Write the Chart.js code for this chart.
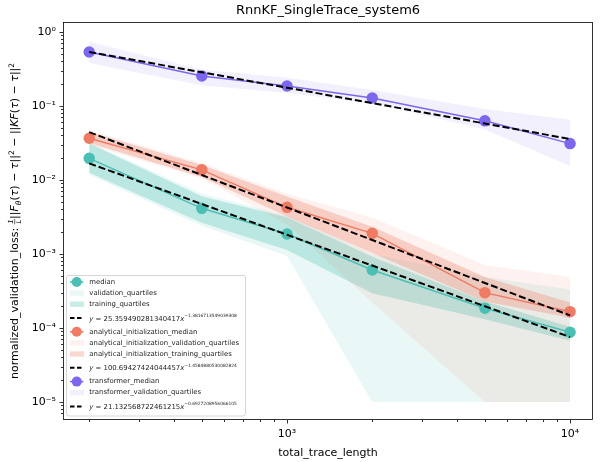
<!DOCTYPE html>
<html>
<head>
<meta charset="utf-8">
<script src="https://cdn.jsdelivr.net/npm/chart.js@4.4.1/dist/chart.umd.min.js"></script>
<style>
  html, body { margin: 0; padding: 0; background: #fff; }
  #wrap { width: 603px; height: 462px; }
</style>
</head>
<body>
<div id="wrap"><canvas id="lossChart"></canvas></div>
<script>
// values
const traceLengths = [200, 500, 1000, 2000, 5000, 10000];

const median = [0.0196, 0.00414, 0.00186, 0.000608, 0.000185, 0.0000875];
const valQ1 = [0.0118, 0.0024, 0.00094, 0.00001, 0.00001, 0.00001];
const valQ3 = [0.032, 0.0065, 0.0033, 0.0010, 0.00049, 0.00033];
const trainQ1 = [0.0125, 0.00265, 0.00113, 0.000295, 0.000131, 0.000067];
const trainQ3 = [0.031, 0.0060, 0.00313, 0.00092, 0.000227, 0.000104];
const fitMedian = [0.016785, 0.004733, 0.001816, 0.000697, 0.0001965, 0.0000754];

const anaMedian = [0.0366, 0.0137, 0.00427, 0.0019, 0.0003, 0.000166];
const anaValQ1 = [0.030, 0.0105, 0.0025, 0.00022, 0.00001, 0.00001];
const anaValQ3 = [0.047, 0.017, 0.0065, 0.0031, 0.00071, 0.00049];
const anaTrainQ1 = [0.0316, 0.011, 0.0032, 0.00103, 0.000227, 0.000137];
const anaTrainQ3 = [0.045, 0.0159, 0.006, 0.00234, 0.00049, 0.00022];
const fitAna = [0.04436, 0.011657, 0.004241, 0.0015436, 0.0004056, 0.0001476];

const tfMedian = [0.537, 0.254, 0.186, 0.128, 0.063, 0.031];
const tfValQ1 = [0.38, 0.19, 0.15, 0.11, 0.048, 0.0155];
const tfValQ3 = [0.74, 0.31, 0.24, 0.165, 0.091, 0.065];
const fitTf = [0.5383, 0.2853, 0.1766, 0.1093, 0.0579, 0.0358];

const fitCoefs = ['25.359490281340417', '100.69427424044457', '21.132568722461215'];
const fitExps = ['−1.3816713549039308', '−1.4584880530082824', '−0.6927208956066105'];

const chartTitle = 'RnnKF_SingleTrace_system6';
const xTitle = 'total_trace_length';

const TEAL = [75, 191, 180];
const SALMON = [239, 123, 100];
const PURPLE = [123, 104, 238];
const rgba = (c, a) => `rgba(${c[0]},${c[1]},${c[2]},${a})`;

const FONT = '"DejaVu Sans", sans-serif';

function pts(ys) {
    return traceLengths.map((x, i) => ({ x: x, y: ys[i] }));
}

function band(upper, lower, color, alpha, order) {
    return [
        { data: pts(upper), fill: '+1', backgroundColor: rgba(color, alpha), borderColor: rgba(color, 0),
          borderWidth: 1, pointRadius: 0, order: order },
        { data: pts(lower), fill: false, borderColor: rgba(color, 0), borderWidth: 1, pointRadius: 0, order: order }
    ];
}

function medianLine(ys, color, order) {
    return { data: pts(ys), borderColor: rgba(color, 1), backgroundColor: rgba(color, 1),
             pointBackgroundColor: rgba(color, 1), pointBorderColor: rgba(color, 1),
             pointRadius: 5, borderWidth: 1.5, fill: false, order: order };
}

function fitLine(ys, order) {
    return { data: pts(ys), borderColor: '#000', borderDash: [7, 3], borderWidth: 2,
             pointRadius: 0, fill: false, order: order };
}

const datasets = [
    medianLine(median, TEAL, 6),
    fitLine(fitMedian, 5),
    medianLine(anaMedian, SALMON, 4),
    fitLine(fitAna, 3),
    medianLine(tfMedian, PURPLE, 2),
    fitLine(fitTf, 1),
    ...band(valQ3, valQ1, TEAL, 0.12, 11),
    ...band(trainQ3, trainQ1, TEAL, 0.3, 10),
    ...band(anaValQ3, anaValQ1, SALMON, 0.1, 9),
    ...band(anaTrainQ3, anaTrainQ1, SALMON, 0.3, 8),
    ...band(tfValQ3, tfValQ1, PURPLE, 0.1, 7)
];

const legendItems = [
    { kind: 'marker', color: TEAL, label: 'median' },
    { kind: 'patch', color: TEAL, alpha: 0.12, label: 'validation_quartiles' },
    { kind: 'patch', color: TEAL, alpha: 0.3, label: 'training_quartiles' },
    { kind: 'fit', fit: 0 },
    { kind: 'marker', color: SALMON, label: 'analytical_initialization_median' },
    { kind: 'patch', color: SALMON, alpha: 0.1, label: 'analytical_initialization_validation_quartiles' },
    { kind: 'patch', color: SALMON, alpha: 0.3, label: 'analytical_initialization_training_quartiles' },
    { kind: 'fit', fit: 1 },
    { kind: 'marker', color: PURPLE, label: 'transformer_median' },
    { kind: 'patch', color: PURPLE, alpha: 0.1, label: 'transformer_validation_quartiles' },
    { kind: 'fit', fit: 2 }
];

const SUP = { '0': '⁰', '1': '¹', '2': '²', '3': '³', '4': '⁴', '5': '⁵', '6': '⁶', '-': '⁻' };
function powLabel(v) {
    const e = Math.log10(v);
    if (Math.abs(e - Math.round(e)) > 1e-9) return '';
    return '10' + String(Math.round(e)).split('').map(c => SUP[c]).join('');
}

function isWholeTick(v) {
    const s = v / Math.pow(10, Math.floor(Math.log10(v) + 1e-9));
    return Math.abs(s - Math.round(s)) < 1e-6;
}

// draws a row of text pieces with their own fonts and offsets
function drawRich(ctx, parts, x, y, align) {
    let total = 0;
    parts.forEach(p => {
        ctx.font = p.f;
        p.w = p.frac ? Math.max(ctx.measureText(p.frac[0]).width, ctx.measureText(p.frac[1]).width) + 1 : ctx.measureText(p.t).width;
        total += p.w;
    });
    let cx = align === 'center' ? x - total / 2 : x;
    ctx.textAlign = 'left';
    ctx.textBaseline = 'alphabetic';
    parts.forEach(p => {
        ctx.font = p.f;
        if (p.frac) {
            ctx.textAlign = 'center';
            ctx.fillText(p.frac[0], cx + p.w / 2, y - 5);
            ctx.fillText(p.frac[1], cx + p.w / 2, y + 3);
            ctx.fillRect(cx, y - 3.5, p.w, 0.6);
            ctx.textAlign = 'left';
        } else {
            ctx.fillText(p.t, cx, y + (p.dy || 0));
        }
        cx += p.w;
    });
}

const decor = {
    id: 'decor',
    afterDraw(chart) {
        const ctx = chart.ctx;
        const area = chart.chartArea;
        ctx.save();

        // ticks (major longer than minor)
        ctx.strokeStyle = '#000';
        ctx.lineWidth = 0.8;
        const xs = chart.scales.x, ys = chart.scales.y;
        xs.ticks.forEach(t => {
            if (!isWholeTick(t.value)) return;
            const px = Math.round(xs.getPixelForValue(t.value)) + 0.5;
            if (px < area.left || px > area.right) return;
            const len = powLabel(t.value) ? 3.5 : 2;
            ctx.beginPath();
            ctx.moveTo(px, area.bottom);
            ctx.lineTo(px, area.bottom + len);
            ctx.stroke();
        });
        ys.ticks.forEach(t => {
            if (!isWholeTick(t.value)) return;
            const py = Math.round(ys.getPixelForValue(t.value)) + 0.5;
            if (py < area.top || py > area.bottom) return;
            const len = powLabel(t.value) ? 3.5 : 2;
            ctx.beginPath();
            ctx.moveTo(area.left, py);
            ctx.lineTo(area.left - len, py);
            ctx.stroke();
        });

        // frame
        ctx.strokeRect(area.left + 0.5, area.top + 0.5, area.right - area.left - 1, area.bottom - area.top - 1);

        // titles
        ctx.fillStyle = '#000';
        ctx.font = '13px ' + FONT;
        ctx.textAlign = 'center';
        ctx.textBaseline = 'middle';
        ctx.fillText(chartTitle, (area.left + area.right) / 2, 11);
        ctx.font = '11px ' + FONT;
        ctx.fillText(xTitle, (area.left + area.right) / 2, 453);

        const base = '11px ' + FONT, ital = 'italic 11px ' + FONT;
        const sup = '7.5px ' + FONT, supItal = 'italic 7.5px ' + FONT;
        const yParts = [
            { t: 'normalized_validation_loss: ', f: base },
            { frac: ['1', 'L'], f: 'italic 7px ' + FONT },
            { t: '||', f: base }, { t: 'F', f: ital }, { t: 'θ', f: supItal, dy: 2.5 },
            { t: '(', f: base }, { t: 'τ', f: ital }, { t: ') − ', f: base }, { t: 'τ', f: ital },
            { t: '||', f: base }, { t: '2', f: sup, dy: -4.5 },
            { t: ' − ||', f: base }, { t: 'KF', f: ital }, { t: '(', f: base }, { t: 'τ', f: ital },
            { t: ') − ', f: base }, { t: 'τ', f: ital }, { t: '||', f: base }, { t: '2', f: sup, dy: -4.5 }
        ];
        ctx.save();
        ctx.translate(18, (area.top + area.bottom) / 2);
        ctx.rotate(-Math.PI / 2);
        drawRich(ctx, yParts, 0, 0, 'center');
        ctx.restore();

        // legend
        const bx = 66.5, by = 275.5, bw = 179, bh = 140.5;
        ctx.fillStyle = 'rgba(255,255,255,0.8)';
        ctx.strokeStyle = '#d6d6d6';
        ctx.lineWidth = 1;
        ctx.beginPath();
        ctx.roundRect(bx, by, bw, bh, 2.5);
        ctx.fill();
        ctx.stroke();

        let rowY = by + 6.5;
        legendItems.forEach((it, i) => {
            if (i > 0) {
                const prev = legendItems[i - 1];
                rowY += (it.kind === 'fit' || prev.kind === 'fit') ? 13.8 : 11.1;
            }
            const hx = 70, hw = 13.5;
            if (it.kind === 'marker') {
                ctx.strokeStyle = rgba(it.color, 1);
                ctx.fillStyle = rgba(it.color, 1);
                ctx.lineWidth = 1.5;
                ctx.setLineDash([]);
                ctx.beginPath();
                ctx.moveTo(hx, rowY);
                ctx.lineTo(hx + hw, rowY);
                ctx.stroke();
                ctx.beginPath();
                ctx.arc(hx + hw / 2, rowY, 5, 0, Math.PI * 2);
                ctx.fill();
            } else if (it.kind === 'patch') {
                ctx.fillStyle = rgba(it.color, it.alpha);
                ctx.fillRect(hx, rowY - 2.7, hw + 0.5, 5.4);
            } else {
                ctx.strokeStyle = '#000';
                ctx.lineWidth = 2;
                ctx.setLineDash([4.5, 2.5]);
                ctx.beginPath();
                ctx.moveTo(hx, rowY);
                ctx.lineTo(hx + hw, rowY);
                ctx.stroke();
                ctx.setLineDash([]);
            }
            ctx.fillStyle = '#222';
            if (it.kind === 'fit') {
                const f = '6.9px ' + FONT, fi = 'italic 6.9px ' + FONT;
                drawRich(ctx, [
                    { t: 'y', f: fi }, { t: ' = ' + fitCoefs[it.fit], f: f }, { t: 'x', f: fi },
                    { t: fitExps[it.fit], f: '4.4px ' + FONT, dy: -3.7 }
                ], 89.3, rowY + 2.5, 'left');
            } else {
                ctx.font = '6.9px ' + FONT;
                ctx.textAlign = 'left';
                ctx.textBaseline = 'middle';
                ctx.fillText(it.label, 89.3, rowY);
            }
        });

        ctx.restore();
    }
};

new Chart(document.getElementById('lossChart'), {
    type: 'line',
    data: { datasets: datasets },
    options: {
        responsive: true,
        maintainAspectRatio: false,
        animation: false,
        layout: { padding: { top: 22, right: 10, left: 0, bottom: 0 } },
        elements: { line: { tension: 0 } },
        plugins: {
            legend: { display: false },
            tooltip: { enabled: false },
            filler: { drawTime: 'beforeDatasetsDraw' }
        },
        scales: {
            x: {
                type: 'logarithmic',
                min: 161.6,
                max: 12050,
                afterFit: (s) => { s.height = 42; },
                border: { display: false },
                grid: { drawOnChartArea: false, drawTicks: true, tickLength: 4, tickColor: 'rgba(0,0,0,0)' },
                ticks: {
                    autoSkip: false, maxRotation: 0, padding: 4, color: '#000',
                    font: { family: FONT, size: 11 },
                    callback: (v) => powLabel(v)
                }
            },
            y: {
                type: 'logarithmic',
                min: 5.7e-6,
                max: 1.365,
                afterFit: (s) => { s.width = 63; },
                border: { display: false },
                grid: { drawOnChartArea: false, drawTicks: true, tickLength: 4, tickColor: 'rgba(0,0,0,0)' },
                ticks: {
                    autoSkip: false, padding: 3, color: '#000',
                    font: { family: FONT, size: 11 },
                    callback: (v) => powLabel(v)
                }
            }
        }
    },
    plugins: [decor]
});
</script>
</body>
</html>
